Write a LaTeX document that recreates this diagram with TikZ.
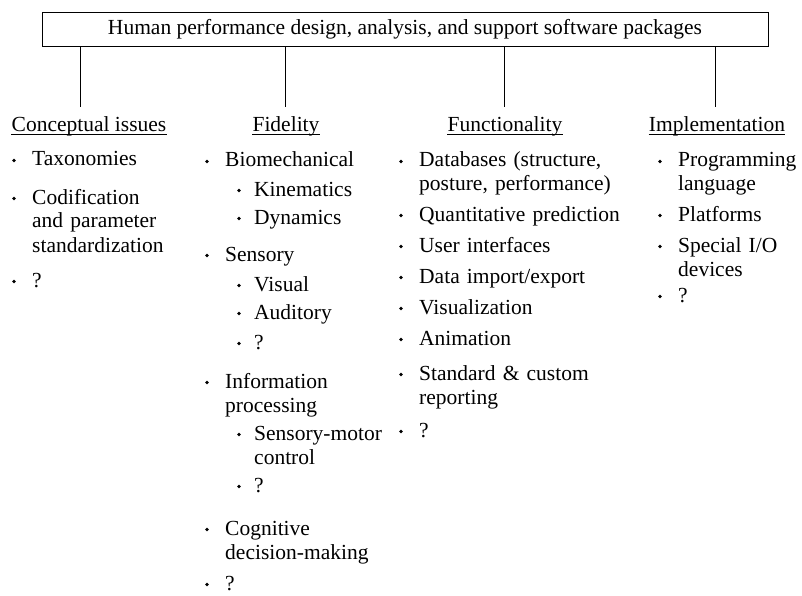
\documentclass[tikz,border=0pt]{standalone}
\usepackage{fontspec}
\setmainfont{Liberation Serif}
\begin{document}
\tikzset{
  base font/.style={font=\fontsize{21.5}{24}\selectfont},
  txt/.style={base font, inner sep=0pt, anchor=base west, align=left, text width=9cm},
  hdr/.style={base font, inner sep=0pt, anchor=base},
  bul/.style={circle, fill=black, inner sep=0pt, minimum size=3.8pt},
  conn/.style={line width=0.6pt},
  topbox/.style={draw, line width=0.6pt, base font, minimum width=726pt, minimum height=34pt, inner sep=0pt}
}
\newcommand\bitem[4]{\node[txt] (#1) at (#2pt,-#3pt) {#4};
  \node[bul] (#1b) at ([xshift=-18pt,yshift=5.5pt]#1.base west) {};}
\newcommand\sitem[4]{\node[txt] (#1) at (#2pt,-#3pt) {#4};
  \node[bul] (#1b) at ([xshift=-15pt,yshift=5.5pt]#1.base west) {};}
\begin{tikzpicture}
\useasboundingbox (0,0) rectangle (802pt,-596pt);
\node[topbox] (top) at (405pt,-29pt) {Human performance design, analysis, and support software packages};
% headers
\node[hdr] (h1) at (89pt,-132pt) {Conceptual issues};
\node[hdr] (h2) at (286pt,-132pt) {Fidelity};
\node[hdr] (h3) at (505pt,-132pt) {Functionality};
\node[hdr] (h4) at (717pt,-132pt) {Implementation};
\foreach \h in {h1,h2,h3,h4}{
  \draw[conn] ([yshift=-2.5pt]\h.base west) -- ([yshift=-2.5pt]\h.base east);
}
% connectors
\coordinate (l1) at (80pt,-107pt);
\coordinate (l2) at (285pt,-107pt);
\coordinate (l3) at (504pt,-107pt);
\coordinate (l4) at (715pt,-107pt);
\foreach \l in {l1,l2,l3,l4}{
  \draw[conn] (top.south -| \l) -- (\l);
}
% column 1
\bitem{tax}{32}{166}{Taxonomies}
\bitem{cod}{32}{204}{Codification\\and parameter\\standardization}
\bitem{qa}{32}{287}{?}
% column 2
\bitem{bio}{225}{167}{Biomechanical}
\sitem{kin}{254}{196}{Kinematics}
\sitem{dyn}{254}{224}{Dynamics}
\bitem{sen}{225}{261}{Sensory}
\sitem{vis}{254}{291}{Visual}
\sitem{aud}{254}{319}{Auditory}
\sitem{sq}{254}{349}{?}
\bitem{inf}{225}{388}{Information\\processing}
\sitem{smc}{254}{440}{Sensory-motor\\control}
\sitem{iq}{254}{492}{?}
\bitem{cog}{225}{535}{Cognitive\\decision-making}
\bitem{fq}{225}{590}{?}
% column 3
\bitem{db}{419}{167}{Databases (structure,\\posture, performance)}
\bitem{qp}{419}{221}{Quantitative prediction}
\bitem{ui}{419}{252}{User interfaces}
\bitem{di}{419}{283}{Data import/export}
\bitem{vz}{419}{314}{Visualization}
\bitem{an}{419}{345}{Animation}
\bitem{sc}{419}{380}{Standard \& custom\\reporting}
\bitem{q3}{419}{437}{?}
% column 4
\bitem{pl}{678}{167}{Programming\\language}
\bitem{pf}{678}{221}{Platforms}
\bitem{sp}{678}{252}{Special I/O\\devices}
\bitem{q4}{678}{302}{?}
\end{tikzpicture}
\end{document}
